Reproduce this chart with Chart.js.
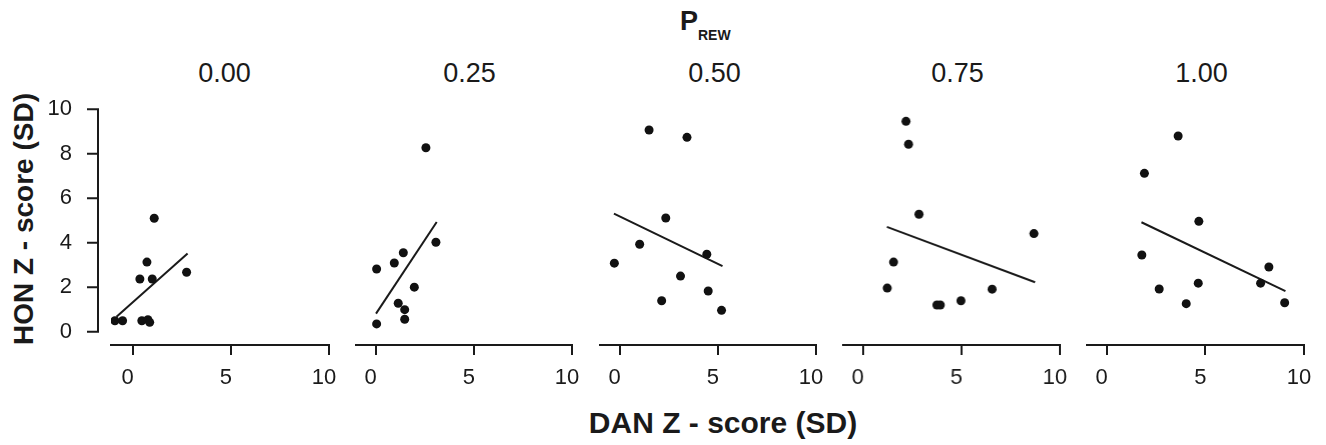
<!DOCTYPE html>
<html>
<head>
<meta charset="utf-8">
<script src="https://cdn.jsdelivr.net/npm/chart.js@4.4.1/dist/chart.umd.min.js"></script>
<style>
  html, body { margin:0; padding:0; background:#fff; }
  body { width:1326px; height:445px; position:relative; overflow:hidden;
         font-family:"Liberation Sans", Arial, Helvetica, sans-serif; color:#1a1a1a; }
  canvas { position:absolute; top:0; }
  .t { position:absolute; white-space:nowrap; line-height:1; }
</style>
</head>
<body>
<div class="t" style="left:680px; top:7.8px; font-size:27px; font-weight:bold;">P</div>
<div class="t" style="left:698px; top:28.2px; font-size:14px; font-weight:bold;">REW</div>
<div id="titles"></div>
<div class="t" style="left:-126.4px; top:205px; width:300px; height:28px; font-size:28px; font-weight:bold; text-align:center; transform:rotate(-90deg);">HON Z - score (SD)</div>
<div class="t" style="left:573px; top:407.6px; width:300px; font-size:30px; font-weight:bold; text-align:center;">DAN Z - score (SD)</div>
<div id="charts"></div>
<script>
// ---------------- data ----------------
const panelTitles = ['0.00', '0.25', '0.50', '0.75', '1.00'];
const xTickValues = [0, 5, 10];
const yTickValues = [0, 2, 4, 6, 8, 10];

const dan_p000 = [-0.90, -0.51, 0.37, 0.73, 0.47, 0.78, 0.87, 1.00, 1.10, 2.75];
const hon_p000 = [0.49, 0.49, 2.37, 3.13, 0.49, 0.54, 0.42, 2.37, 5.10, 2.67];
const fitDan_p000 = [-0.82, 2.80];
const fitHon_p000 = [0.67, 3.52];

const dan_p025 = [2.56, 3.07, 1.41, 0.95, 0.05, 1.97, 1.15, 1.48, 1.48, 0.05];
const hon_p025 = [8.27, 4.02, 3.55, 3.09, 2.82, 2.00, 1.28, 0.99, 0.56, 0.35];
const fitDan_p025 = [0.02, 3.11];
const fitHon_p025 = [0.81, 4.93];

const dan_p050 = [1.50, 3.43, 2.35, 1.02, -0.27, 4.44, 3.10, 4.51, 2.14, 5.19];
const hon_p050 = [9.07, 8.74, 5.11, 3.93, 3.08, 3.48, 2.50, 1.83, 1.39, 0.96];
const fitDan_p050 = [-0.29, 5.24];
const fitHon_p050 = [5.31, 2.95];

const dan_p075 = [2.19, 2.32, 2.85, 8.68, 1.56, 1.24, 6.56, 4.98, 3.76, 3.93];
const hon_p075 = [9.46, 8.43, 5.28, 4.41, 3.13, 1.96, 1.91, 1.39, 1.20, 1.20];
const fitDan_p075 = [1.22, 8.74];
const fitHon_p075 = [4.71, 2.22];

const dan_p100 = [3.62, 1.91, 4.67, 1.78, 8.22, 4.64, 7.80, 2.66, 4.03, 9.02];
const hon_p100 = [8.80, 7.12, 4.96, 3.45, 2.91, 2.18, 2.18, 1.92, 1.26, 1.30];
const fitDan_p100 = [1.76, 9.06];
const fitHon_p100 = [4.92, 1.82];

// ---------------- layout / style ----------------
const INK = '#1a1a1a';
const FONT = '"Liberation Sans", Arial, Helvetica, sans-serif';
const layoutPanels = [
  { left: 111,   right: 329,    xMin: -1.1, titleCx: 224.5 },
  { left: 355.7, right: 572,    xMin: -1.0, titleCx: 469.5 },
  { left: 600,   right: 816,    xMin: -1.0, titleCx: 714.5 },
  { left: 843.3, right: 1060,   xMin: -1.0, titleCx: 957.5 },
  { left: 1087.3,right: 1304.3, xMin: -1.0, titleCx: 1201.5 }
];
const panelData = [
  [dan_p000, hon_p000, fitDan_p000, fitHon_p000],
  [dan_p025, hon_p025, fitDan_p025, fitHon_p025],
  [dan_p050, hon_p050, fitDan_p050, fitHon_p050],
  [dan_p075, hon_p075, fitDan_p075, fitHon_p075],
  [dan_p100, hon_p100, fitDan_p100, fitHon_p100]
];
const CANVAS_H = 400, PAD_TOP = 109.3, XAXIS_H = 55, SIDE = 25, YAXIS_W = 111;

// panel titles as real text
const titlesEl = document.getElementById('titles');
panelTitles.forEach((t, i) => {
  const d = document.createElement('div');
  d.className = 't';
  d.style.cssText = `left:${layoutPanels[i].titleCx - 100}px; top:60.4px; width:200px; text-align:center; font-size:27px;`;
  d.textContent = t;
  titlesEl.appendChild(d);
});

// plugin: Prism-style offset y axis (drawn through the y scale)
const offsetYAxis = {
  id: 'offsetYAxis',
  afterDraw(chart, args, opts) {
    if (!opts.enabled) return;
    const ys = chart.scales.y;
    const ctx = chart.ctx;
    const x = chart.chartArea.left - 13;
    ctx.save();
    ctx.strokeStyle = INK;
    ctx.lineWidth = 2;
    ctx.lineCap = 'square';
    ctx.beginPath();
    ctx.moveTo(x, ys.getPixelForValue(yTickValues[0]));
    ctx.lineTo(x, ys.getPixelForValue(yTickValues[yTickValues.length - 1]));
    yTickValues.forEach(v => {
      const py = ys.getPixelForValue(v);
      ctx.moveTo(x - 10, py);
      ctx.lineTo(x, py);
    });
    ctx.stroke();
    ctx.restore();
  }
};

const chartsEl = document.getElementById('charts');
layoutPanels.forEach((lp, i) => {
  const first = i === 0;
  const canvas = document.createElement('canvas');
  const cLeft = first ? 0 : lp.left - SIDE;
  const cWidth = first ? lp.right + SIDE : (lp.right - lp.left) + 2 * SIDE;
  canvas.width = cWidth; canvas.height = CANVAS_H;
  canvas.style.left = cLeft + 'px';
  canvas.style.width = cWidth + 'px';
  canvas.style.height = CANVAS_H + 'px';
  chartsEl.appendChild(canvas);

  const [dan, hon, fd, fh] = panelData[i];
  const yScale = {
    type: 'linear', position: 'left', min: -0.6, max: 10, display: first,
    afterBuildTicks: s => { s.ticks = yTickValues.map(v => ({ value: v })); },
    grid: { display: false, drawTicks: false },
    border: { display: false },
    ticks: { color: INK, font: { family: FONT, size: 22 }, padding: 39, autoSkip: false }
  };
  if (first) yScale.afterFit = s => { s.width = YAXIS_W; };

  new Chart(canvas, {
    type: 'scatter',
    data: {
      datasets: [
        {
          type: 'scatter',
          data: dan.map((v, k) => ({ x: v, y: hon[k] })),
          pointRadius: 4.5, pointHoverRadius: 4.5,
          pointBackgroundColor: '#111', pointBorderWidth: 0, borderWidth: 0
        },
        {
          type: 'line',
          data: fd.map((v, k) => ({ x: v, y: fh[k] })),
          borderColor: INK, borderWidth: 2, pointRadius: 0, fill: false, tension: 0
        }
      ]
    },
    options: {
      responsive: false,
      animation: false,
      devicePixelRatio: 1,
      layout: { padding: { top: PAD_TOP, bottom: 0, left: first ? 0 : SIDE, right: SIDE } },
      plugins: { legend: { display: false }, tooltip: { enabled: false }, title: { display: false },
                 offsetYAxis: { enabled: first } },
      scales: {
        x: {
          type: 'linear', position: 'bottom', min: lp.xMin, max: 10,
          afterBuildTicks: s => { s.ticks = xTickValues.map(v => ({ value: v })); },
          afterFit: s => { s.height = XAXIS_H; },
          grid: { display: true, drawOnChartArea: false, drawTicks: true, tickLength: 10, color: INK, lineWidth: 2 },
          border: { display: true, color: INK, width: 2 },
          ticks: { color: INK, font: { family: FONT, size: 22 }, padding: 10, labelOffset: -5,
                   maxRotation: 0, autoSkip: false }
        },
        y: yScale
      }
    },
    plugins: [offsetYAxis]
  });
});
</script>
</body>
</html>
